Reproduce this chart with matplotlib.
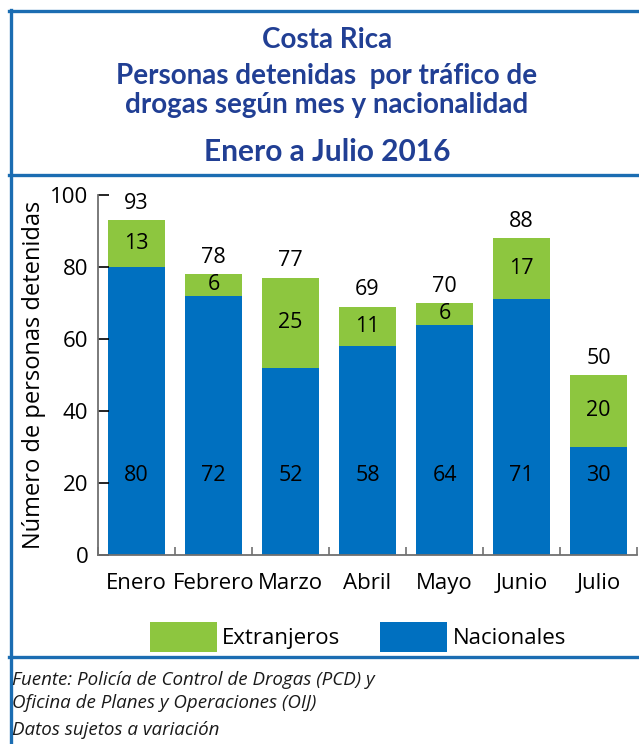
import matplotlib
matplotlib.use("Agg")
import matplotlib.pyplot as plt
from matplotlib.lines import Line2D
import numpy as np

months = ["Enero", "Febrero", "Marzo", "Abril", "Mayo", "Junio", "Julio"]
nacionales = [80, 72, 52, 58, 64, 71, 30]
extranjeros = [13, 6, 25, 11, 6, 17, 20]
totales = [93, 78, 77, 69, 70, 88, 50]

blue = "#0070C0"
green = "#8DC63F"
frame_blue = "#1B6DB2"
title_blue = "#213F94"

plt.rcParams["font.family"] = ["Open Sans", "DejaVu Sans"]

W, H = 639, 744
fig = plt.figure(figsize=(W / 100, H / 100), dpi=100)

ax = fig.add_axes([98 / W, 1 - 555 / H, (637 - 98) / W, (555 - 195) / H])

x = np.arange(len(months))
ax.bar(x, nacionales, width=0.73, color=blue, label="Nacionales")
ax.bar(x, extranjeros, width=0.73, bottom=nacionales, color=green, label="Extranjeros")

for i in range(len(months)):
    ax.text(x[i], 22, str(nacionales[i]), ha="center", va="center", fontsize=15.5)
    ax.text(x[i], nacionales[i] + extranjeros[i] / 2, str(extranjeros[i]),
            ha="center", va="center", fontsize=15.5)
    ax.text(x[i], totales[i] + 4.7, str(totales[i]), ha="center", va="center", fontsize=15.5)

ax.set_xlim(-0.5, 6.5)
ax.set_ylim(0, 100)
ax.set_yticks([0, 20, 40, 60, 80, 100])
ax.set_xticks(x)
ax.set_xticklabels(months, fontsize=16)
ax.set_xticks(np.arange(-0.5, 7, 1), minor=True)
ax.tick_params(axis="x", which="major", length=0, pad=13)
ax.tick_params(axis="x", which="minor", direction="in", length=6, width=1.2, color="#707070")
ax.tick_params(axis="y", direction="in", length=8, width=1.2, labelsize=16, pad=7)
for s in ["top", "right"]:
    ax.spines[s].set_visible(False)
for s in ["left", "bottom"]:
    ax.spines[s].set_color("#707070")
    ax.spines[s].set_linewidth(1.3)
ax.set_ylabel("Número de personas detenidas", fontsize=17, labelpad=3)

handles, labels = ax.get_legend_handles_labels()
fig.legend(handles[::-1], labels[::-1], loc="center", bbox_to_anchor=(358 / W, 1 - 637 / H),
           ncol=2, frameon=False, fontsize=16, handlelength=3.0, handleheight=1.7,
           handletextpad=0.25, columnspacing=1.8)

# titles
tfont = ["Lato", "DejaVu Sans"]
fig.text(327 / W, 1 - 40 / H, "Costa Rica", ha="center", va="center",
         fontsize=20, fontweight="bold", color=title_blue, family=tfont)
fig.text(327 / W, 1 - 76 / H, "Personas detenidas  por tráfico de", ha="center", va="center",
         fontsize=20, fontweight="bold", color=title_blue, family=tfont)
fig.text(327 / W, 1 - 105 / H, "drogas según mes y nacionalidad", ha="center", va="center",
         fontsize=20, fontweight="bold", color=title_blue, family=tfont)
fig.text(327 / W, 1 - 152 / H, "Enero a Julio 2016", ha="center", va="center",
         fontsize=21.5, fontweight="bold", color=title_blue, family=tfont)

# footer
foot = ["Fuente: Policía de Control de Drogas (PCD) y",
        "Oficina de Planes y Operaciones (OIJ)",
        "Datos sujetos a variación"]
for txt, yy in zip(foot, [680, 703, 730]):
    fig.text(12 / W, 1 - yy / H, txt, ha="left", va="center", fontsize=13.5,
             style="italic", color="#1a1a1a")

# frame lines
lw = 2.4
fig.add_artist(Line2D([10.5 / W, 10.5 / W], [0, 1 - 10 / H], color=frame_blue, lw=lw))
for yy in [11, 175, 657]:
    fig.add_artist(Line2D([9 / W, 1], [1 - yy / H, 1 - yy / H], color=frame_blue, lw=lw))

fig.savefig("out.png", dpi=100)
